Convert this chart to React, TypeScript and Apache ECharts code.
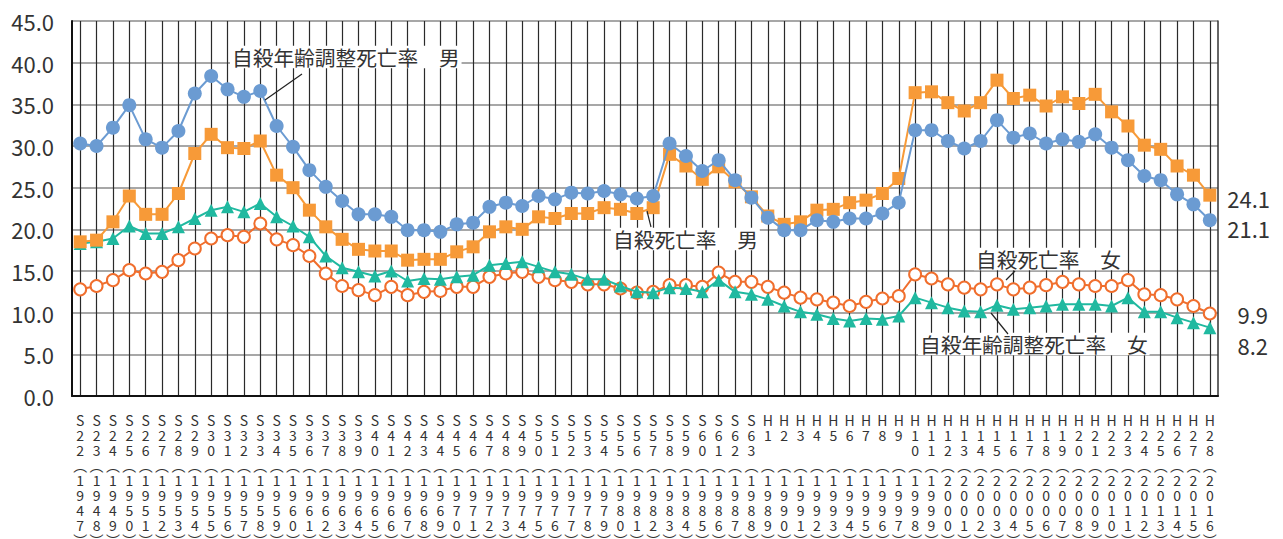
import React, { useEffect, useRef } from "react";
import * as echarts from "echarts";

const eraLabels = [
  "S22","S23","S24","S25","S26","S27","S28","S29","S30","S31","S32","S33","S34","S35","S36","S37","S38","S39","S40","S41","S42",
  "S43","S44","S45","S46","S47","S48","S49","S50","S51","S52","S53","S54","S55","S56","S57","S58","S59","S60","S61","S62","S63",
  "H1","H2","H3","H4","H5","H6","H7","H8","H9","H10","H11","H12","H13","H14","H15","H16","H17","H18","H19","H20","H21","H22",
  "H23","H24","H25","H26","H27","H28",
];
const yearLabels = [
  "1947","1948","1949","1950","1951","1952","1953","1954","1955","1956","1957","1958","1959","1960","1961","1962","1963","1964","1965","1966","1967",
  "1968","1969","1970","1971","1972","1973","1974","1975","1976","1977","1978","1979","1980","1981","1982","1983","1984","1985","1986","1987","1988",
  "1989","1990","1991","1992","1993","1994","1995","1996","1997","1998","1999","2000","2001","2002","2003","2004","2005","2006","2007","2008","2009","2010",
  "2011","2012","2013","2014","2015","2016",
];

// 自殺年齢調整死亡率 男
const adjustedMale = [
  30.3, 30.0, 32.2, 34.9, 30.8, 29.8, 31.8, 36.3, 38.4, 36.8, 35.9, 36.6, 32.4, 29.9, 27.1, 25.1, 23.4, 21.8, 21.8, 21.5, 19.9,
  19.9, 19.7, 20.6, 20.8, 22.7, 23.2, 22.8, 24.0, 23.6, 24.4, 24.3, 24.6, 24.2, 23.7, 24.0, 30.3, 28.8, 27.0, 28.3, 25.9, 23.8,
  21.4, 19.9, 19.9, 21.1, 20.9, 21.3, 21.3, 21.9, 23.2, 31.9, 31.9, 30.6, 29.7, 30.6, 33.1, 31.0, 31.5, 30.3, 30.8, 30.5, 31.4, 29.8,
  28.3, 26.4, 25.9, 24.2, 23.0, 21.1,
];
// 自殺死亡率 男
const crudeMale = [
  18.5, 18.7, 20.9, 24.0, 21.8, 21.8, 24.3, 29.1, 31.4, 29.8, 29.7, 30.6, 26.5, 25.0, 22.3, 20.3, 18.8, 17.6, 17.4, 17.4, 16.3,
  16.4, 16.4, 17.3, 17.9, 19.7, 20.3, 20.0, 21.5, 21.3, 21.9, 21.9, 22.6, 22.4, 21.9, 22.6, 29.0, 27.6, 26.0, 27.5, 25.7, 23.9,
  21.6, 20.6, 20.9, 22.3, 22.4, 23.2, 23.5, 24.3, 26.1, 36.4, 36.5, 35.2, 34.2, 35.2, 37.9, 35.7, 36.1, 34.8, 35.9, 35.1, 36.2, 34.1,
  32.4, 30.1, 29.6, 27.6, 26.5, 24.1,
];
// 自殺年齢調整死亡率 女
const adjustedFemale = [
  18.3, 18.5, 18.9, 20.4, 19.5, 19.5, 20.3, 21.3, 22.3, 22.7, 22.1, 23.1, 21.5, 20.4, 19.1, 16.8, 15.4, 14.9, 14.4, 15.0, 13.8,
  14.1, 14.0, 14.3, 14.5, 15.7, 15.9, 16.1, 15.5, 14.9, 14.6, 14.0, 14.0, 13.2, 12.5, 12.4, 13.0, 12.9, 12.5, 13.9, 12.5, 12.2,
  11.6, 10.8, 10.1, 9.8, 9.3, 9.0, 9.3, 9.2, 9.6, 11.8, 11.2, 10.6, 10.2, 10.1, 10.9, 10.4, 10.6, 10.8, 11.0, 11.0, 11.0, 10.8,
  11.8, 10.1, 10.1, 9.4, 8.8, 8.2,
];
// 自殺死亡率 女
const crudeFemale = [
  12.8, 13.2, 13.9, 15.1, 14.7, 14.9, 16.3, 17.7, 18.9, 19.3, 19.1, 20.7, 18.8, 18.1, 16.8, 14.7, 13.2, 12.7, 12.1, 13.1, 12.1,
  12.5, 12.6, 13.1, 13.1, 14.3, 14.7, 14.9, 14.3, 13.9, 13.7, 13.4, 13.4, 12.9, 12.4, 12.5, 13.3, 13.3, 13.1, 14.8, 13.7, 13.7,
  13.1, 12.4, 11.8, 11.6, 11.2, 10.8, 11.3, 11.7, 12.0, 14.6, 14.1, 13.4, 13.0, 12.8, 13.4, 12.8, 13.0, 13.3, 13.7, 13.4, 13.2, 13.2,
  13.9, 12.2, 12.1, 11.6, 10.8, 9.9,
];

const FONT = '"Noto Sans CJK JP", "Noto Sans", sans-serif';

const categories = eraLabels.map((e, i) => e + "|" + yearLabels[i]);

function verticalLabel(value: string): string {
  const [era, year] = value.split("|");
  const eraChars = era.split("");
  while (eraChars.length < 3) eraChars.push("");
  return [...eraChars, "\uFE35", ...year.split(""), "\uFE36"].join("\n");
}

export default function App() {
  const ref = useRef<HTMLDivElement>(null);
  useEffect(() => {
    if (!ref.current) return;
    const chart = echarts.init(ref.current, undefined, { renderer: "svg" });
    const annText = (text: string, x: number, y: number, align: string = "left") => ({
      type: "text",
      x,
      y,
      z: 50,
      style: {
        text,
        fill: "#333",
        font: `20.7px ${FONT}`,
        textAlign: align,
        textVerticalAlign: "middle",
        backgroundColor: "#fff",
        padding: [1, 2],
      },
    });
    const endText = (text: string, x: number, y: number) => ({
      type: "text",
      x,
      y,
      z: 50,
      style: {
        text,
        fill: "#333",
        font: `22px ${FONT}`,
        textAlign: "right",
        textVerticalAlign: "middle",
      },
    });
    const leader = (x1: number, y1: number, x2: number, y2: number) => ({
      type: "line",
      z: 50,
      shape: { x1, y1, x2, y2 },
      style: { stroke: "#222", lineWidth: 1.2 },
    });
    chart.setOption({
      animation: false,
      textStyle: { fontFamily: FONT },
      grid: {
        left: 72,
        top: 21,
        right: 65,
        bottom: 143,
        containLabel: false,
        outerBoundsMode: "none",
      },
      xAxis: {
        type: "category",
        data: categories,
        boundaryGap: true,
        axisLine: { show: true, lineStyle: { color: "#111", width: 2 } },
        axisTick: { show: false },
        splitLine: {
          show: true,
          interval: 0,
          alignWithLabel: true,
          lineStyle: { color: "#2a2a2a", width: 1.2 },
        },
        axisLabel: {
          interval: 0,
          margin: 16,
          fontSize: 14,
          lineHeight: 15,
          color: "#333",
          fontFamily: FONT,
          formatter: (v: string) => verticalLabel(v),
        },
      },
      yAxis: [
        {
          type: "value",
          min: 0,
          max: 45,
          interval: 5,
          axisLine: { show: true, lineStyle: { color: "#111", width: 2 } },
          axisTick: { show: false },
          splitLine: { show: true, lineStyle: { color: "#8a8a8a", width: 1.5 } },
          axisLabel: {
            formatter: (v: number) => v.toFixed(1),
            fontSize: 22,
            color: "#333",
            margin: 18,
            fontFamily: FONT,
          },
        },
        {
          type: "value",
          position: "right",
          min: 0,
          max: 45,
          interval: 5,
          axisLine: { show: true, lineStyle: { color: "#333", width: 1.5 } },
          axisTick: { show: false },
          axisLabel: { show: false },
          splitLine: { show: false },
        },
      ],
      series: [
        {
          name: "自殺死亡率　女",
          type: "line",
          data: crudeFemale,
          symbol: "emptyCircle",
          symbolSize: 12,
          lineStyle: { color: "#f06e2d", width: 2 },
          itemStyle: { color: "#f06e2d", borderColor: "#f06e2d", borderWidth: 3.5 },
          z: 2,
        },
        {
          name: "自殺年齢調整死亡率　女",
          type: "line",
          data: adjustedFemale,
          symbol: "triangle",
          symbolSize: 13,
          lineStyle: { color: "#20b9a0", width: 2 },
          itemStyle: { color: "#20b9a0" },
          z: 3,
        },
        {
          name: "自殺死亡率　男",
          type: "line",
          data: crudeMale,
          symbol: "rect",
          symbolSize: 13,
          lineStyle: { color: "#f79a38", width: 2 },
          itemStyle: { color: "#f79a38" },
          z: 4,
        },
        {
          name: "自殺年齢調整死亡率　男",
          type: "line",
          data: adjustedMale,
          symbol: "circle",
          symbolSize: 14,
          lineStyle: { color: "#6b9bd2", width: 2 },
          itemStyle: { color: "#6b9bd2" },
          z: 5,
        },
      ],
      graphic: [
        annText("自殺年齢調整死亡率　男", 230, 57),
        leader(302, 74, 265, 100),
        annText("自殺死亡率　男", 611, 239),
        leader(647, 211, 651, 227),
        annText("自殺死亡率　女", 974, 259),
        leader(1015, 271, 1006, 280),
        annText("自殺年齢調整死亡率　女", 918, 344),
        leader(991, 313, 1008, 334),
        endText("24.1", 1270, 198),
        endText("21.1", 1270, 228),
        endText("9.9", 1268, 314),
        endText("8.2", 1268, 345),
      ],
    });
    return () => chart.dispose();
  }, []);
  return (
    <div
      ref={ref}
      style={{ position: "absolute", left: 0, top: 0, width: 1283, height: 539, background: "#fff" }}
    />
  );
}
